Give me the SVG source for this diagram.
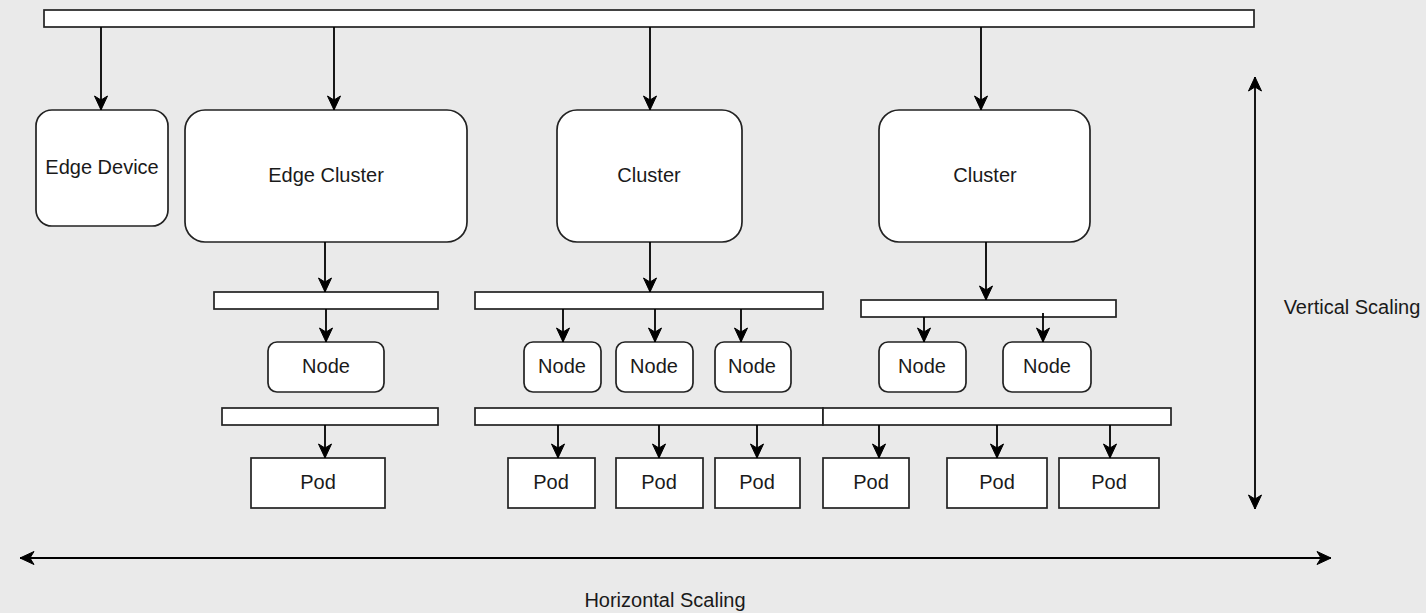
<svg xmlns="http://www.w3.org/2000/svg" width="1426" height="613" viewBox="0 0 1426 613">
<defs>
<marker id="ah" viewBox="-1 -1 16 15" refX="14" refY="6.5" markerWidth="16" markerHeight="15" markerUnits="userSpaceOnUse" orient="auto-start-reverse">
<path d="M0,0 L14,6.5 L0,13 L4,6.5 Z" fill="#000" stroke="#000" stroke-width="1" stroke-linejoin="miter"/>
</marker>
<style>
.box{fill:#fff;stroke:#222;stroke-width:1.7}
.bar{fill:#fff;stroke:#222;stroke-width:1.7}
.lbl{font-family:"Liberation Sans",Arial,sans-serif;font-size:20px;fill:#1a1a1a;text-anchor:middle}
.c{fill:none;stroke:#000;stroke-width:1.8;marker-end:url(#ah)}
.cb{fill:none;stroke:#000;stroke-width:1.8;marker-end:url(#ah);marker-start:url(#ah)}
</style>
</defs>
<rect x="0" y="0" width="1426" height="613" fill="#eaeaea"/>

<g id="bars">
<rect class="bar" x="44" y="10" width="1210" height="17"/>
<rect class="bar" x="214" y="292" width="224" height="17"/>
<rect class="bar" x="222" y="408" width="216" height="17"/>
<rect class="bar" x="475" y="292" width="348" height="17"/>
<rect class="bar" x="475" y="408" width="348" height="17"/>
<rect class="bar" x="823" y="408" width="348" height="17"/>
<rect class="bar" x="861" y="300" width="255" height="17"/>
</g>

<g id="edge-device"><rect class="box" x="36" y="110" width="132" height="116" rx="16"/><text class="lbl" x="102" y="174">Edge Device</text></g>
<g id="edge-cluster"><rect class="box" x="185" y="110" width="282" height="132" rx="20"/><text class="lbl" x="326" y="182">Edge Cluster</text></g>
<g id="cluster-1"><rect class="box" x="557" y="110" width="185" height="132" rx="20"/><text class="lbl" x="649" y="182">Cluster</text></g>
<g id="cluster-2"><rect class="box" x="879" y="110" width="211" height="132" rx="20"/><text class="lbl" x="985" y="182">Cluster</text></g>

<g id="node-e1"><rect class="box" x="268" y="342" width="116" height="50" rx="9"/><text class="lbl" x="326" y="373">Node</text></g>
<g id="node-c1a"><rect class="box" x="524" y="342" width="77" height="50" rx="9"/><text class="lbl" x="562" y="373">Node</text></g>
<g id="node-c1b"><rect class="box" x="616" y="342" width="77" height="50" rx="9"/><text class="lbl" x="654" y="373">Node</text></g>
<g id="node-c1c"><rect class="box" x="715" y="342" width="76" height="50" rx="9"/><text class="lbl" x="752" y="373">Node</text></g>
<g id="node-c2a"><rect class="box" x="879" y="342" width="87" height="50" rx="9"/><text class="lbl" x="922" y="373">Node</text></g>
<g id="node-c2b"><rect class="box" x="1003" y="342" width="88" height="50" rx="9"/><text class="lbl" x="1047" y="373">Node</text></g>

<g id="pod-e1"><rect class="box" x="251" y="458" width="134" height="50"/><text class="lbl" x="318" y="489">Pod</text></g>
<g id="pod-1"><rect class="box" x="508" y="458" width="87" height="50"/><text class="lbl" x="551" y="489">Pod</text></g>
<g id="pod-2"><rect class="box" x="616" y="458" width="87" height="50"/><text class="lbl" x="659" y="489">Pod</text></g>
<g id="pod-3"><rect class="box" x="715" y="458" width="85" height="50"/><text class="lbl" x="757" y="489">Pod</text></g>
<g id="pod-4"><rect class="box" x="823" y="458" width="86" height="50"/><text class="lbl" x="871" y="489">Pod</text></g>
<g id="pod-5"><rect class="box" x="947" y="458" width="100" height="50"/><text class="lbl" x="997" y="489">Pod</text></g>
<g id="pod-6"><rect class="box" x="1059" y="458" width="100" height="50"/><text class="lbl" x="1109" y="489">Pod</text></g>

<g id="connectors">
<line class="c" x1="101" y1="27" x2="101" y2="110"/>
<line class="c" x1="334" y1="27" x2="334" y2="110"/>
<line class="c" x1="650" y1="27" x2="650" y2="110"/>
<line class="c" x1="981" y1="27" x2="981" y2="110"/>
<line class="c" x1="325" y1="242" x2="325" y2="292"/>
<line class="c" x1="650" y1="242" x2="650" y2="292"/>
<line class="c" x1="986" y1="242" x2="986" y2="300"/>
<line class="c" x1="326" y1="309" x2="326" y2="342"/>
<line class="c" x1="563" y1="309" x2="563" y2="342"/>
<line class="c" x1="655" y1="309" x2="655" y2="342"/>
<line class="c" x1="741" y1="309" x2="741" y2="342"/>
<line class="c" x1="924" y1="317" x2="924" y2="342"/>
<line class="c" x1="1043" y1="313" x2="1043" y2="342"/>
<line class="c" x1="325" y1="425" x2="325" y2="458"/>
<line class="c" x1="558" y1="425" x2="558" y2="458"/>
<line class="c" x1="659" y1="425" x2="659" y2="458"/>
<line class="c" x1="757" y1="425" x2="757" y2="458"/>
<line class="c" x1="879" y1="425" x2="879" y2="458"/>
<line class="c" x1="997" y1="425" x2="997" y2="458"/>
<line class="c" x1="1110" y1="425" x2="1110" y2="458"/>
<line class="cb" x1="1255" y1="509" x2="1255" y2="77"/>
<line class="cb" x1="20" y1="558" x2="1331" y2="558"/>
</g>

<g id="labels">
<text class="lbl" x="1352" y="314">Vertical Scaling</text>
<text class="lbl" x="665" y="607">Horizontal Scaling</text>
</g>
</svg>
